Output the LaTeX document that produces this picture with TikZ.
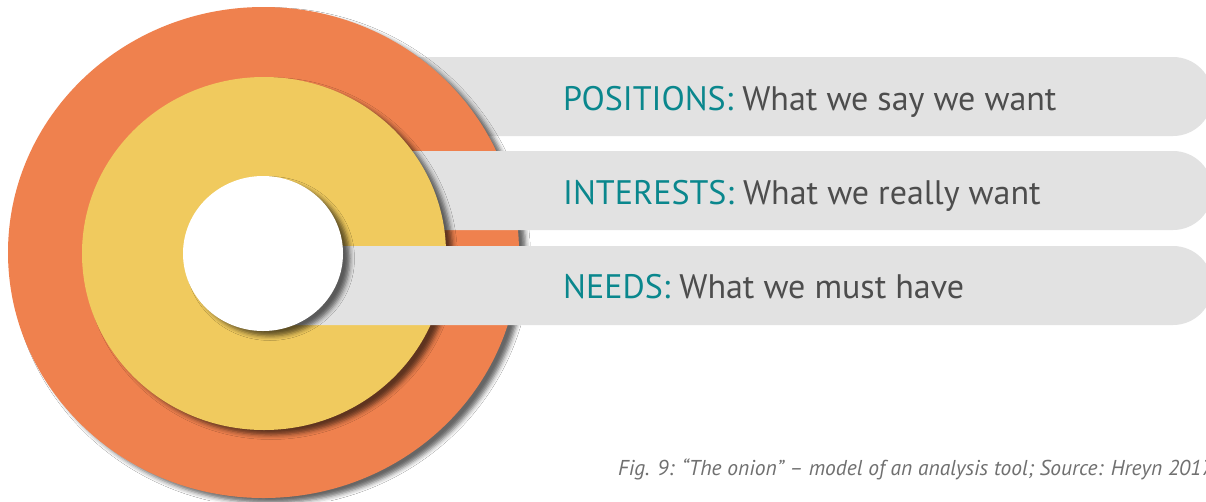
\documentclass[tikz,border=0pt]{standalone}
\usepackage{fontspec}
\setmainfont{PT Sans}
\usepackage{tikz}
\usetikzlibrary{shapes.geometric,shadows.blur}
\definecolor{OnionOrange}{HTML}{EF814E}
\definecolor{OnionYellow}{HTML}{F0CA5E}
\definecolor{BarGrey}{HTML}{E2E2E2}
\definecolor{KeyTeal}{HTML}{0A878D}
\definecolor{TextGrey}{HTML}{4D4D4D}
\definecolor{NoteGrey}{HTML}{707070}

\begin{document}
\begin{tikzpicture}[x=1pt,y=-1pt,
    layer/.style={ellipse,inner sep=0pt,blur shadow={shadow xshift=7pt,shadow yshift=-5pt,shadow blur radius=4.5pt,shadow opacity=60}},
    bar/.style={fill=BarGrey},
    key/.style={anchor=base west,inner sep=0pt,font=\fontsize{34}{40}\selectfont,text=TextGrey},
    note/.style={anchor=base west,inner sep=0pt,font=\fontsize{21.5}{25}\selectfont\itshape,text=NoteGrey}
  ]
  \useasboundingbox (0,0) rectangle (1206,501);
  \fill[white] (0,0) rectangle (1206,501);
  \clip (0,0) rectangle (1206,501);

  % each bar tucks under the ring above it
  \fill[bar] (263,57) -- (1173,57) arc[start angle=-90,end angle=90,radius=39.5] -- (263,136) -- cycle;
  \node[layer,fill=OnionOrange,minimum width=511pt,minimum height=491pt] (outerLayer) at (263.5,252.5) {};
  \fill[bar] (263,151) -- (1173,151) arc[start angle=-90,end angle=90,radius=39.5] -- (263,230) -- cycle;
  \node[layer,fill=OnionYellow,minimum width=364pt,minimum height=353pt] (midLayer) at (264,253.5) {};
  \fill[bar] (263,246) -- (1173,246) arc[start angle=-90,end angle=90,radius=39.5] -- (263,325) -- cycle;
  \node[layer,fill=white,minimum width=160pt,minimum height=155pt] (coreLayer) at (263,253.5) {};

  \node[key] (posText) at (563,110) {\textcolor{KeyTeal}{POSITIONS:} What we say we want};
  \node[key] (intText) at (563,204.5) {\textcolor{KeyTeal}{INTERESTS:} What we really want};
  \node[key] (needText) at (563,298) {\textcolor{KeyTeal}{NEEDS:} What we must have};

  \node[note] (figNote) at (618,475) {Fig. 9: “The onion” – model of an analysis tool; Source: Hreyn 2017};
\end{tikzpicture}
\end{document}
